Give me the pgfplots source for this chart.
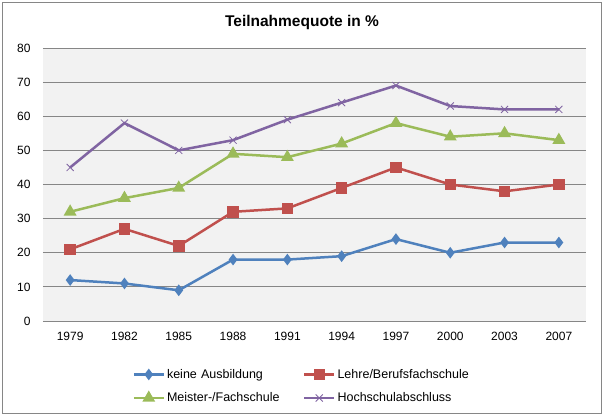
\documentclass[border=0pt]{standalone}
\usepackage{fontspec}
\setmainfont{Liberation Sans}
\usepackage{pgfplots}
\pgfplotsset{compat=1.18}
\definecolor{cblue}{HTML}{4F81BD}
\definecolor{cred}{HTML}{C0504D}
\definecolor{cgreen}{HTML}{9BBB59}
\definecolor{cpurple}{HTML}{8064A2}
\definecolor{plotbg}{HTML}{F2F2F2}
\definecolor{gridc}{HTML}{868686}
\begin{document}
\begin{tikzpicture}[x=1pt,y=1pt]
\path[use as bounding box] (0,0) rectangle (604,416);
\draw[color=gridc, line width=1pt] (2.5,2.5) rectangle (601.5,413.5);
\node[font=\fontsize{15.5}{18}\selectfont\bfseries] at (302,394) {Teilnahmequote in \%};
\begin{axis}[
  at={(43pt,95pt)}, anchor=south west,
  scale only axis, width=543pt, height=273pt,
  xmin=-0.5, xmax=9.5, ymin=0, ymax=80,
  ytick={0,10,...,80},
  xtick={0,...,9},
  xticklabels={1979,1982,1985,1988,1991,1994,1997,2000,2003,2007},
  axis line style={draw=none},
  major tick style={draw=none},
  ymajorgrids, grid style={color=gridc, line width=0.9pt},
  axis background/.style={fill=plotbg},
  /pgf/number format/assume math mode=true,
  tick label style={font=\fontsize{12}{14}\selectfont},
  yticklabel style={xshift=-9pt},
  xticklabel style={yshift=-8pt},
  every axis plot/.append style={line width=2.5pt},
  legend columns=2,
  legend style={draw=none, fill=none, at={(axis description cs:0.159,-0.161)}, anchor=north west,
    font=\fontsize{12.5}{14}\selectfont,
    nodes={text width=134pt, align=left, inner sep=2pt},
    row sep=9pt},
  legend cell align=left,
  legend image code/.code={\draw[mark repeat=2,mark phase=2] plot coordinates {(0pt,0pt)(15pt,0pt)(30pt,0pt)};},
]
\addplot[color=cblue, mark=diamond*, mark size=3.8pt, mark options={solid}] coordinates {
(0,12)(1,11)(2,9)(3,18)(4,18)(5,19)(6,24)(7,20)(8,23)(9,23)};
\addlegendentry{keine Ausbildung}
\addplot[color=cred, mark=square*, mark size=4.5pt] coordinates {
(0,21)(1,27)(2,22)(3,32)(4,33)(5,39)(6,45)(7,40)(8,38)(9,40)};
\addlegendentry{Lehre/Berufsfachschule}
\addplot[color=cgreen, mark=triangle*, mark size=5pt] coordinates {
(0,32)(1,36)(2,39)(3,49)(4,48)(5,52)(6,58)(7,54)(8,55)(9,53)};
\addlegendentry{Meister-/Fachschule}
\addplot[color=cpurple, mark=x, mark size=5pt, mark options={line width=0.8pt}] coordinates {
(0,45)(1,58)(2,50)(3,53)(4,59)(5,64)(6,69)(7,63)(8,62)(9,62)};
\addlegendentry{Hochschulabschluss}
\end{axis}
\end{tikzpicture}
\end{document}
